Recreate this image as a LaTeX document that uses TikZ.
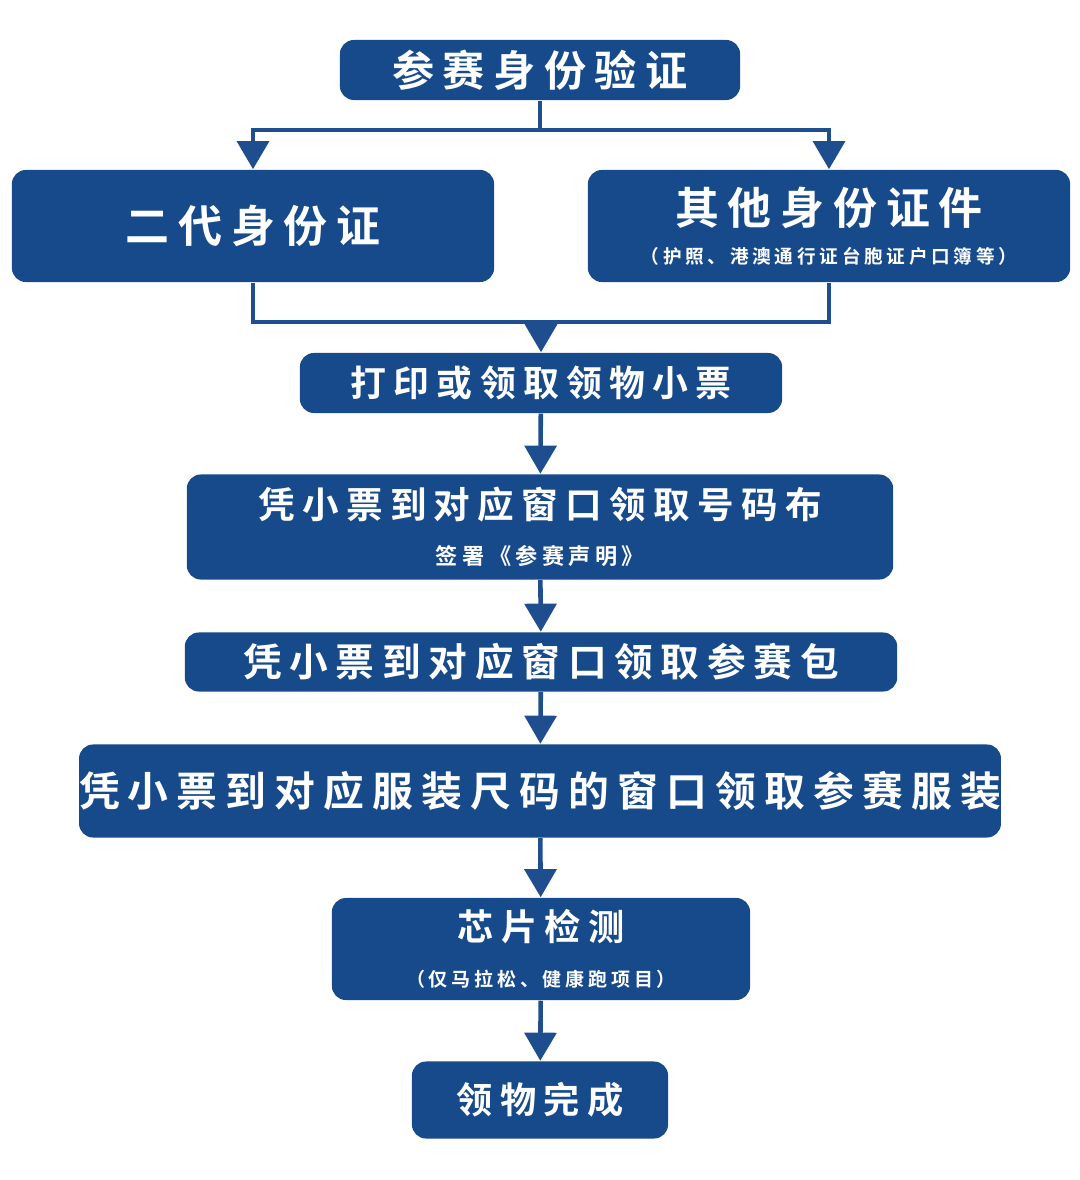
\documentclass[tikz,border=0pt]{standalone}
\usepackage{fontspec}
\newfontfamily\cjk[LetterSpace=20]{Noto Sans CJK SC Bold}
\usetikzlibrary{arrows.meta, positioning}
\definecolor{boxblue}{HTML}{174A8B}
\definecolor{lineblue}{HTML}{1F4E8F}

\begin{document}
\begin{tikzpicture}[x=0.01cm, y=-0.01cm, >={Triangle[width=9pt,length=8pt]},
            stepbox/.style={fill=boxblue, rounded corners=4pt, text=white, align=center,
                inner sep=0pt, font=\cjk},
            link/.style={draw=lineblue, line width=1.3pt}]
            \useasboundingbox (0, 0) rectangle (1080, 1180);

            % boxes
            \node[stepbox, minimum width=4cm, minimum height=0.6cm, font=\cjk\fontsize{12pt}{14pt}\selectfont] (check) at (540, 70) {参赛身份验证};
            \node[stepbox, minimum width=4.82cm, minimum height=1.12cm, font=\cjk\fontsize{12.5pt}{14pt}\selectfont] (idcard) at (253, 226) {二代身份证};
            \node[stepbox, minimum width=4.82cm, minimum height=1.12cm] (otherid) at (829, 226)
                {{\fontsize{12.5pt}{15pt}\selectfont 其他身份证件}\\[-1pt]{\fontsize{5.3pt}{7pt}\selectfont（护照、港澳通行证台胞证户口簿等）}};
            \node[stepbox, minimum width=4.82cm, minimum height=0.6cm, font=\cjk\fontsize{10.2pt}{12pt}\selectfont] (ticket) at (541, 383) {打印或领取领物小票};
            \node[stepbox, minimum width=7.06cm, minimum height=1.05cm] (bib) at (540, 527)
                {{\fontsize{10.4pt}{13pt}\selectfont 凭小票到对应窗口领取号码布}\\[1pt]{\fontsize{6.3pt}{8pt}\selectfont 签署《参赛声明》}};
            \node[stepbox, minimum width=7.12cm, minimum height=0.59cm, font=\cjk\fontsize{11pt}{13pt}\selectfont] (pack) at (541, 662) {凭小票到对应窗口领取参赛包};
            \node[stepbox, minimum width=9.19cm, minimum height=0.93cm, font=\cjk\fontsize{11.6pt}{13pt}\selectfont] (cloth) at (540, 791) {凭小票到对应服装尺码的窗口领取参赛服装};
            \node[stepbox, minimum width=4.18cm, minimum height=1.02cm] (chip) at (541, 949)
                {{\fontsize{10.3pt}{13pt}\selectfont 芯片检测}\\[1pt]{\fontsize{5.4pt}{7pt}\selectfont（仅马拉松、健康跑项目）}};
            \node[stepbox, minimum width=2.56cm, minimum height=0.77cm, font=\cjk\fontsize{10.3pt}{12pt}\selectfont] (done) at (540, 1100) {领物完成};

            % connectors
            \coordinate (splitL) at (idcard.north |- 0, 130);
            \coordinate (splitR) at (otherid.north |- 0, 130);
            \coordinate (joinL) at (idcard.south |- 0, 322);
            \coordinate (joinR) at (otherid.south |- 0, 322);
            \draw[link] (check.south) -- (check.south |- splitL);
            \draw[link, ->] (check.south |- splitL) -- (splitL) -- (idcard.north);
            \draw[link, ->] (check.south |- splitR) -- (splitR) -- (otherid.north);
            \draw[link] (idcard.south) -- (joinL) -- (joinR) -- (otherid.south);
            \draw[link, ->] (ticket.north |- joinL) -- (ticket.north);
            \draw[link, ->] (ticket) -- (bib);
            \draw[link, ->] (bib) -- (pack);
            \draw[link, ->] (pack) -- (cloth);
            \draw[link, ->] (cloth) -- (chip);
            \draw[link, ->] (chip) -- (done);
        \end{tikzpicture}
\end{document}
